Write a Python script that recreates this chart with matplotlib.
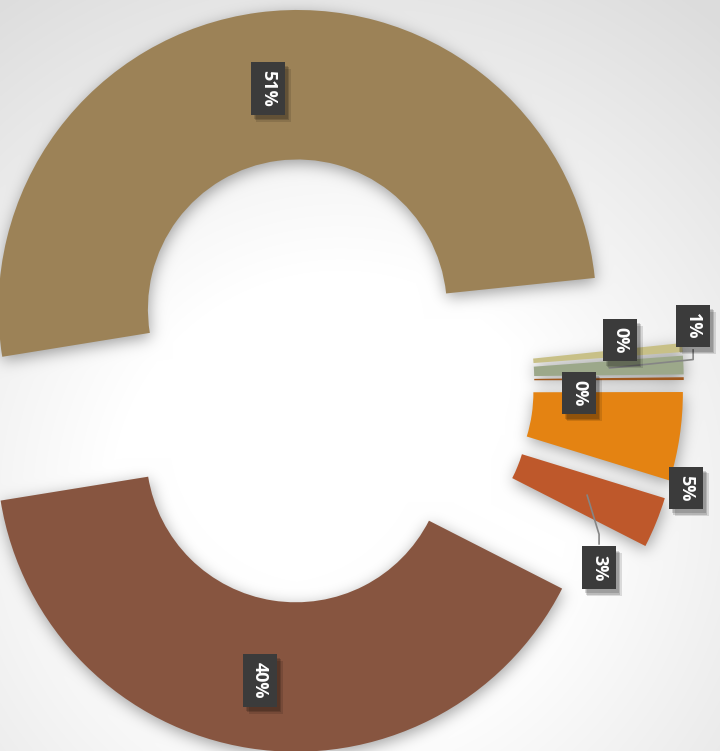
import numpy as np
import matplotlib
matplotlib.use("Agg")
import matplotlib.pyplot as plt
import matplotlib.patheffects as pe

plt.rcParams['font.family'] = ['Open Sans', 'DejaVu Sans']

# данные (доли в процентах, по часовой стрелке от верхнего сектора)
shares = [50.9, 0.48, 1.0, 0.15, 4.78, 2.75, 39.94]
colors = ['#9c8257', '#c8c087', '#9ca88a', '#a0581e', '#e48312', '#be582b', '#875540']
label_texts = [f"{v:.0f}%" for v in shares]

# раскладка
W, H = 720, 751
R_PX = 299.0            # радиус кольца в пикселях
CX, CY = 307, 381       # центр диаграммы (от левого верхнего угла)
explode = [0.243, 0.26, 0.26, 0.26, 0.26, 0.26, 0.243]
# (радиус, угол) подписи относительно центра сектора; None -> середина сектора
label_pos = [(0.745, None), (0.796, 8.2), (1.046, 9.5), (0.651, -3.7),
             (1.06, -17.5), (0.905, -35.6), (0.77, None)]
leader = [False, False, True, False, False, True, False]


def blur(img, sigma):
    """Простое гауссово размытие (раздельная свёртка)."""
    k = np.arange(-int(3 * sigma), int(3 * sigma) + 1)
    kern = np.exp(-k ** 2 / (2 * sigma ** 2))
    kern /= kern.sum()
    img = np.apply_along_axis(lambda v: np.convolve(v, kern, mode='same'), 0, img)
    img = np.apply_along_axis(lambda v: np.convolve(v, kern, mode='same'), 1, img)
    return img


fig = plt.figure(figsize=(W / 100, H / 100), dpi=100)
ax = fig.add_axes([0, 0, 1, 1])

xlim = (-CX / R_PX, (W - CX) / R_PX)
ylim = (-(H - CY) / R_PX, CY / R_PX)

wedges, _ = ax.pie(shares, colors=colors, explode=explode, startangle=189.2,
                   counterclock=False, radius=1.0,
                   wedgeprops=dict(width=0.5, linewidth=0, zorder=3))

# фон: радиальный градиент
yy, xx = np.mgrid[0:H, 0:W]
d = np.hypot(xx - 340, yy - 500)
t = np.clip((d - 230) / 380, 0, 1)
g = 1 - 0.135 * t

# тень: маска секторов, сдвиг и размытие
off_x, off_y = 1, 4
X = (xx + 0.5 - off_x - CX) / R_PX
Y = (CY - (yy + 0.5 - off_y)) / R_PX
mask = np.zeros((H, W))
for w in wedges:
    cx, cy = w.center
    rr = np.hypot(X - cx, Y - cy)
    th = np.degrees(np.arctan2(Y - cy, X - cx))
    th = (th - w.theta1) % 360
    inside = (rr <= w.r) & (rr >= w.r - w.width) & (th <= (w.theta2 - w.theta1))
    mask[inside] = 1.0
shadow = blur(mask, 7.5)
g = g * (1 - 0.36 * shadow)

bg = np.dstack([g, g, g])
ax.imshow(bg, extent=(xlim[0], xlim[1], ylim[0], ylim[1]), origin='upper',
          zorder=0, aspect='auto', interpolation='bilinear')

box_fx = [pe.SimplePatchShadow(offset=(2, -3), shadow_rgbFace='black', alpha=0.15),
          pe.SimplePatchShadow(offset=(3, -4), shadow_rgbFace='black', alpha=0.15),
          pe.SimplePatchShadow(offset=(4, -5), shadow_rgbFace='black', alpha=0.12),
          pe.Normal()]
half_box = 23 / R_PX
for i, w in enumerate(wedges):
    cx, cy = w.center
    mid = np.deg2rad((w.theta1 + w.theta2) / 2)
    r, ang = label_pos[i]
    a = mid if ang is None else np.deg2rad(ang)
    lx, ly = cx + r * np.cos(a), cy + r * np.sin(a)

    if leader[i]:
        axx, ayy = cx + 0.75 * np.cos(mid), cy + 0.75 * np.sin(mid)
        sgn = 1 if ayy > ly else -1
        ex, ey = lx, ly + sgn * (half_box + 0.035)
        ax.plot([axx, ex, lx], [ayy, ey, ly + sgn * half_box],
                color='#858585', lw=1.2, zorder=4, solid_capstyle='butt')

    ax.text(lx, ly, label_texts[i], rotation=-90, ha='center', va='center',
            rotation_mode='anchor', fontsize=13, fontweight='bold', color='white',
            bbox=dict(boxstyle='square,pad=0.45', fc='#3b3b3b', ec='none',
                      path_effects=box_fx),
            zorder=6)

ax.set_xlim(*xlim)
ax.set_ylim(*ylim)
ax.set_aspect('auto')
ax.set_axis_off()

fig.savefig('out.png', dpi=100)
